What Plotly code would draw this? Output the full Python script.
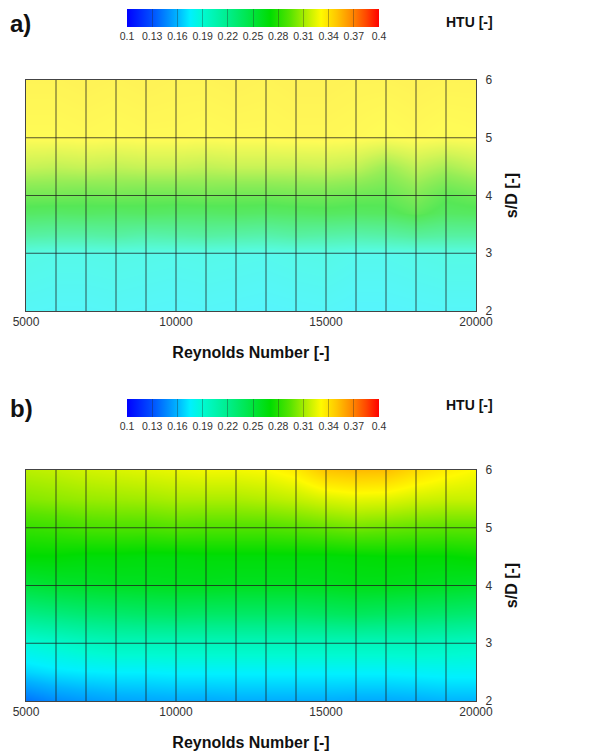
import plotly.graph_objects as go

# ---------------- data ----------------
reynolds = [5000, 6000, 7000, 8000, 9000, 10000, 11000, 12000, 13000,
            14000, 15000, 16000, 17000, 18000, 19000, 20000]

# panel a) node rows (s/D values)
sd_a = [2, 3, 3.3, 3.7, 4, 4.5, 5, 6]
htu_a = [
    [0.179, 0.178, 0.178, 0.179, 0.178, 0.177, 0.178, 0.177, 0.176, 0.177, 0.178, 0.176, 0.176, 0.177, 0.178, 0.178],
    [0.188, 0.186, 0.186, 0.187, 0.186, 0.185, 0.186, 0.185, 0.184, 0.186, 0.187, 0.184, 0.184, 0.186, 0.188, 0.188],
    [0.228, 0.225, 0.225, 0.228, 0.222, 0.225, 0.228, 0.225, 0.222, 0.228, 0.225, 0.222, 0.225, 0.232, 0.228, 0.228],
    [0.264, 0.262, 0.264, 0.262, 0.264, 0.262, 0.262, 0.264, 0.262, 0.264, 0.266, 0.264, 0.266, 0.276, 0.264, 0.266],
    [0.282, 0.282, 0.280, 0.282, 0.280, 0.280, 0.282, 0.280, 0.280, 0.282, 0.282, 0.279, 0.277, 0.288, 0.274, 0.280],
    [0.312, 0.310, 0.312, 0.310, 0.312, 0.312, 0.310, 0.312, 0.312, 0.312, 0.313, 0.310, 0.298, 0.310, 0.302, 0.310],
    [0.331, 0.331, 0.332, 0.331, 0.332, 0.332, 0.331, 0.332, 0.332, 0.333, 0.333, 0.332, 0.330, 0.332, 0.330, 0.331],
    [0.335, 0.335, 0.336, 0.335, 0.336, 0.335, 0.335, 0.336, 0.335, 0.336, 0.336, 0.335, 0.335, 0.336, 0.335, 0.335],
]

# panel b) node rows (s/D values)
sd_b = [2, 2.5, 3, 3.5, 4, 4.5, 5, 5.5, 6]
htu_b = [
    [0.140, 0.148, 0.152, 0.155, 0.156, 0.157, 0.157, 0.158, 0.158, 0.158, 0.158, 0.157, 0.157, 0.158, 0.160, 0.160],
    [0.168, 0.172, 0.174, 0.175, 0.175, 0.176, 0.176, 0.176, 0.176, 0.176, 0.176, 0.176, 0.176, 0.177, 0.178, 0.178],
    [0.188, 0.192, 0.197, 0.200, 0.200, 0.200, 0.200, 0.200, 0.200, 0.200, 0.200, 0.200, 0.200, 0.200, 0.198, 0.196],
    [0.222, 0.226, 0.230, 0.232, 0.234, 0.235, 0.234, 0.234, 0.234, 0.234, 0.236, 0.238, 0.236, 0.234, 0.232, 0.230],
    [0.250, 0.254, 0.256, 0.258, 0.259, 0.260, 0.260, 0.259, 0.259, 0.259, 0.260, 0.262, 0.262, 0.260, 0.258, 0.256],
    [0.270, 0.270, 0.268, 0.268, 0.267, 0.267, 0.268, 0.268, 0.268, 0.268, 0.268, 0.269, 0.270, 0.270, 0.270, 0.272],
    [0.285, 0.287, 0.290, 0.291, 0.291, 0.293, 0.292, 0.292, 0.292, 0.294, 0.297, 0.300, 0.298, 0.296, 0.295, 0.295],
    [0.304, 0.306, 0.308, 0.309, 0.310, 0.312, 0.312, 0.312, 0.314, 0.317, 0.322, 0.325, 0.324, 0.320, 0.318, 0.318],
    [0.315, 0.317, 0.320, 0.322, 0.324, 0.326, 0.328, 0.328, 0.330, 0.336, 0.350, 0.353, 0.352, 0.342, 0.335, 0.330],
]

htu_ticks = [0.1, 0.13, 0.16, 0.19, 0.22, 0.25, 0.28, 0.31, 0.34, 0.37, 0.4]
htu_ticktext = ["0.1", "0.13", "0.16", "0.19", "0.22", "0.25", "0.28", "0.31", "0.34", "0.37", "0.4"]
re_ticks = [5000, 10000, 15000, 20000]
re_ticktext = ["5000", "10000", "15000", "20000"]
sd_ticks = [2, 3, 4, 5, 6]

# ---------------- styling ----------------
OFF = 8            # default page margin around the plot div
W, H = 580, 745
FONT = "Liberation Sans, Arial, sans-serif"

colorscale = [
    [0.00, "rgb(0,0,255)"],
    [0.10, "rgb(0,80,255)"],
    [0.20, "rgb(0,180,255)"],
    [0.25, "rgb(0,240,255)"],
    [0.30, "rgb(0,250,210)"],
    [0.40, "rgb(0,238,140)"],
    [0.50, "rgb(0,228,60)"],
    [0.57, "rgb(0,220,0)"],
    [0.65, "rgb(90,228,0)"],
    [0.72, "rgb(190,240,0)"],
    [0.77, "rgb(255,250,0)"],
    [0.83, "rgb(255,200,0)"],
    [0.90, "rgb(255,130,0)"],
    [0.95, "rgb(255,70,0)"],
    [1.00, "rgb(255,0,0)"],
]


def px_x(p):
    return (p - OFF) / W


def px_y(p):
    return 1 - (p - OFF) / H


def cbar(top_px):
    return dict(
        orientation="h",
        x=px_x((127 + 379) / 2), xanchor="center",
        y=px_y(top_px), yanchor="top",
        len=252, lenmode="pixels",
        thickness=18, thicknessmode="pixels",
        tickmode="array", tickvals=htu_ticks, ticktext=htu_ticktext,
        ticks="inside", ticklen=18, tickwidth=1, tickcolor="rgba(40,40,40,0.35)",
        tickfont=dict(family=FONT, size=10.5, color="#333"),
        outlinewidth=0, xpad=0, ypad=0,
    )


fig = go.Figure()

fig.add_trace(go.Heatmap(
    x=reynolds, y=sd_a, z=htu_a, zmin=0.1, zmax=0.4, colorscale=colorscale,
    zsmooth="best", opacity=0.66, xaxis="x", yaxis="y",
    colorbar=cbar(9), hoverinfo="skip",
))
fig.add_trace(go.Heatmap(
    x=reynolds, y=sd_b, z=htu_b, zmin=0.1, zmax=0.4, colorscale=colorscale,
    zsmooth="best", xaxis="x2", yaxis="y2",
    colorbar=cbar(399), hoverinfo="skip",
))


def grid_lines(xa, ya):
    gx, gy = [], []
    for xv in reynolds[1:-1]:
        gx += [xv, xv, None]
        gy += [sd_ticks[0], sd_ticks[-1], None]
    for yv in sd_ticks[1:-1]:
        gx += [reynolds[0], reynolds[-1], None]
        gy += [yv, yv, None]
    return go.Scatter(x=gx, y=gy, mode="lines", xaxis=xa, yaxis=ya,
                      line=dict(color="rgba(30,30,30,0.75)", width=1),
                      showlegend=False, hoverinfo="skip")


fig.add_trace(grid_lines("x", "y"))
fig.add_trace(grid_lines("x2", "y2"))

xdom = [px_x(26), px_x(476)]
common_x = dict(
    range=[reynolds[0], reynolds[-1]], tickmode="array", tickvals=re_ticks,
    ticktext=re_ticktext,
    showgrid=False, zeroline=False, showline=True, linecolor="#444", linewidth=1,
    mirror=True, ticks="", tickfont=dict(family=FONT, size=12, color="#333"),
    title=dict(text="Reynolds Number [-]", standoff=18,
               font=dict(family=FONT, size=16, color="#111", weight="bold")),
    domain=xdom, automargin=False,
)
common_y = dict(
    range=[sd_ticks[0], sd_ticks[-1]], tickmode="array", tickvals=sd_ticks,
    side="right", showgrid=False, zeroline=False, showline=True, linecolor="#444",
    linewidth=1, mirror=True, ticks="", ticklabelstandoff=6,
    tickfont=dict(family=FONT, size=12, color="#333"),
    title=dict(text="s/D [-]", standoff=14,
               font=dict(family=FONT, size=16, color="#111", weight="bold")),
    automargin=False,
)

fig.update_layout(
    width=W, height=H,
    margin=dict(l=0, r=0, t=0, b=0, autoexpand=False),
    paper_bgcolor="white", plot_bgcolor="white",
    showlegend=False,
    xaxis=dict(common_x, anchor="y"),
    yaxis=dict(common_y, anchor="x", domain=[px_y(311), px_y(80)]),
    xaxis2=dict(common_x, anchor="y2"),
    yaxis2=dict(common_y, anchor="x2", domain=[px_y(701), px_y(470)]),
    annotations=[
        dict(text="a)", x=px_x(8), y=px_y(8), xref="paper", yref="paper",
             xanchor="left", yanchor="top", showarrow=False,
             font=dict(family=FONT, size=24, color="#111", weight="bold")),
        dict(text="HTU [-]", x=px_x(495), y=px_y(22), xref="paper", yref="paper",
             xanchor="right", yanchor="middle", showarrow=False,
             font=dict(family=FONT, size=14, color="#111", weight="bold")),
        dict(text="b)", x=px_x(8), y=px_y(408), xref="paper", yref="paper",
             xanchor="left", yanchor="middle", showarrow=False,
             font=dict(family=FONT, size=24, color="#111", weight="bold")),
        dict(text="HTU [-]", x=px_x(495), y=px_y(405), xref="paper", yref="paper",
             xanchor="right", yanchor="middle", showarrow=False,
             font=dict(family=FONT, size=14, color="#111", weight="bold")),
    ],
)

fig.write_html("out.html")
